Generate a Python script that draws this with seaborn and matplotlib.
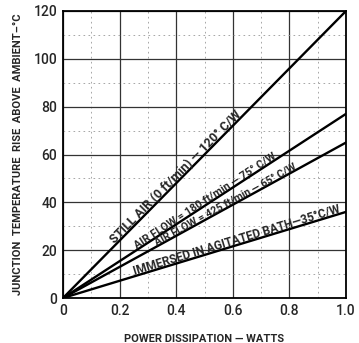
import math
import pandas as pd
import matplotlib.pyplot as plt
import matplotlib.transforms as mtransforms
import seaborn as sns
from matplotlib.ticker import MultipleLocator

# Thermal resistance curves: temperature rise vs power dissipation
power = [0.0, 1.0]
still_air = [0, 120]
air_180 = [0, 77]
air_425 = [0, 65]
immersed = [0, 36]

labels = [
    "STILL AIR (0 ft/min) \u2014 120\u00b0 C/W",
    "AIR FLOW = 180 ft/min \u2014 75\u00b0 C/W",
    "AIR FLOW = 425 ft/min \u2014 65\u00b0 C/W",
    "IMMERSED IN AGITATED BATH\u201435\u00b0C/W",
]
label_x = [0.41, 0.51, 0.58, 0.62]
label_size = [9.0, 7.8, 7.6, 8.5]
xtick_labels = ["0", "0.2", "0.4", "0.6", "0.8", "1.0"]

df = pd.DataFrame({
    "power": power * 4,
    "rise": still_air + air_180 + air_425 + immersed,
    "curve": sum([[lab] * 2 for lab in labels], []),
})

sns.set_style("white")
plt.rcParams["font.family"] = ["Roboto", "DejaVu Sans"]

fig = plt.figure(figsize=(3.59, 3.43), dpi=100)
ax = fig.add_axes([63 / 359, 45 / 343, 283 / 359, 287 / 343])

sns.lineplot(data=df, x="power", y="rise", units="curve", estimator=None,
             color="black", linewidth=1.7, ax=ax)

ax.set_xlim(0, 1.0)
ax.set_ylim(0, 120)
ax.set_xticks([0, 0.2, 0.4, 0.6, 0.8, 1.0])
ax.set_xticklabels(xtick_labels)
ax.xaxis.set_minor_locator(MultipleLocator(0.1))
ax.yaxis.set_major_locator(MultipleLocator(20))
ax.yaxis.set_minor_locator(MultipleLocator(10))
ax.grid(which="major", color="#333333", linewidth=0.9)
ax.grid(which="minor", color="#999999", linewidth=0.6, linestyle=(0, (2, 4)))
for s in ax.spines.values():
    s.set_color("black")
    s.set_linewidth(1.3)
ax.tick_params(labelsize=10, length=3, width=1, direction="in", pad=4)
ax.tick_params(which="minor", length=0)
for t in ax.get_xticklabels() + ax.get_yticklabels():
    t.set_fontweight("medium")

ax.set_xlabel("POWER DISSIPATION \u2014 WATTS", fontsize=8, labelpad=12,
              fontweight="bold")
ax.set_ylabel("JUNCTION  TEMPERATURE  RISE  ABOVE  AMBIENT\u2013\u00b0C",
              fontsize=8, labelpad=8, fontweight="bold")

# line labels, rotated to follow each line in display space
ends = [still_air[1], air_180[1], air_425[1], immersed[1]]
for lab, x, end, fs in zip(labels, label_x, ends, label_size):
    p0 = ax.transData.transform((0, 0))
    p1 = ax.transData.transform((1, end))
    ang = math.degrees(math.atan2(p1[1] - p0[1], p1[0] - p0[0]))
    dx = -math.sin(math.radians(ang)) * 0.8 / 72
    dy = math.cos(math.radians(ang)) * 0.8 / 72
    tr = ax.transData + mtransforms.ScaledTranslation(dx, dy, fig.dpi_scale_trans)
    ax.text(x, end * x, lab, fontsize=fs, fontweight="bold",
            rotation=ang, ha="center", va="baseline",
            rotation_mode="anchor", transform=tr)

fig.savefig("out.png", dpi=100)
